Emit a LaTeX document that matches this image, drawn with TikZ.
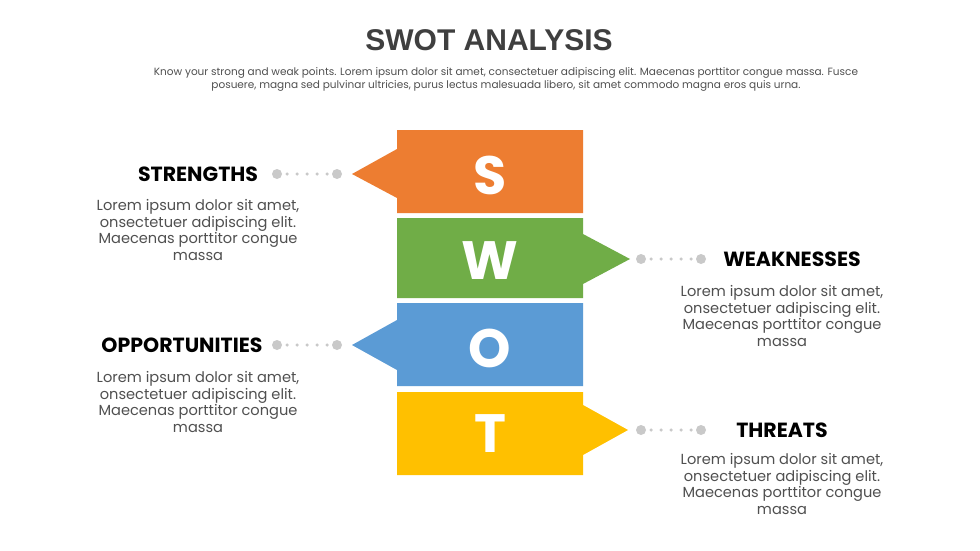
\documentclass[tikz,border=0pt]{standalone}
\usepackage{fontspec}
\setmainfont{Poppins}
\newfontfamily\titlefont{Liberation Sans}
\usetikzlibrary{positioning}

\definecolor{swotS}{HTML}{ED7D31}
\definecolor{swotW}{HTML}{70AD47}
\definecolor{swotO}{HTML}{5B9BD5}
\definecolor{swotT}{HTML}{FFC000}
\definecolor{titlegray}{HTML}{3F3F3F}
\definecolor{textgray}{HTML}{505050}
\definecolor{dotgray}{HTML}{C9C9C9}

\tikzset{
  letter/.style={text=white, font=\bfseries\fontsize{54}{54}\selectfont},
  heading/.style={text=black, font=\bfseries\fontsize{20.5}{23}\selectfont},
  body/.style={align=center, text=textgray, font=\fontsize{14.6}{16.5}\selectfont},
  bigdot/.style={circle, fill=dotgray, inner sep=0pt, minimum size=10pt},
  dotline/.style={dotgray, line width=3.5pt, line cap=round, dash pattern=on 0pt off 10pt},
}

\begin{document}
\begin{tikzpicture}[x=1pt,y=-1pt]
  \useasboundingbox (0,0) rectangle (980,551);
  \fill[white] (0,0) rectangle (980,551);

  % Title
  \node[text=titlegray, font=\titlefont\bfseries\fontsize{30}{32}\selectfont] (title) at (489,40) {SWOT ANALYSIS};
  \node[text=textgray, align=center, font=\fontsize{10.5}{13}\selectfont] (subtitle) at (506,79)
    {Know your strong and weak points. Lorem ipsum dolor sit amet, consectetuer adipiscing elit. Maecenas porttitor congue massa. Fusce\\
     posuere, magna sed pulvinar ultricies, purus lectus malesuada libero, sit amet commodo magna eros quis urna.};

  % Arrow blocks
  \fill[swotS] (397,130) -- (583,130) -- (583,213) -- (397,213) -- (397,198) -- (352,174) -- (397,149) -- cycle;
  \fill[swotW] (397,218) -- (583,218) -- (583,234) -- (630,259) -- (583,284) -- (583,298) -- (397,298) -- cycle;
  \fill[swotO] (397,303) -- (583,303) -- (583,386) -- (397,386) -- (397,370) -- (352,345) -- (397,320) -- cycle;
  \fill[swotT] (397,392) -- (583,392) -- (583,405) -- (628,430) -- (583,455) -- (583,475) -- (397,475) -- cycle;

  % Letters
  \node[letter] (ls) at (490,175) {S};
  \node[letter] (lw) at (490,261) {W};
  \node[letter] (lo) at (490,348) {O};
  \node[letter] (lt) at (490,434) {T};

  % Dots
  \node[bigdot] (sa) at (277,174) {};
  \node[bigdot] (sb) at (337,174) {};
  \node[bigdot] (wa) at (641,259) {};
  \node[bigdot] (wb) at (701,259) {};
  \node[bigdot] (oa) at (277,345) {};
  \node[bigdot] (ob) at (337,345) {};
  \node[bigdot] (ta) at (641,430) {};
  \node[bigdot] (tb) at (701,430) {};
  \draw[dotline] (sa.center) -- (sb.center);
  \draw[dotline] (wa.center) -- (wb.center);
  \draw[dotline] (oa.center) -- (ob.center);
  \draw[dotline] (ta.center) -- (tb.center);

  % Headings
  \node[heading] (hs) at (198,174) {STRENGTHS};
  \node[heading] (hw) at (792,259) {WEAKNESSES};
  \node[heading] (ho) at (182,345) {OPPORTUNITIES};
  \node[heading] (ht) at (782,430) {THREATS};

  % Body texts
  \node[body] (bs) at (198,230) {Lorem ipsum dolor sit amet,\\ onsectetuer adipiscing elit.\\ Maecenas porttitor congue\\ massa};
  \node[body] (bw) at (782,316) {Lorem ipsum dolor sit amet,\\ onsectetuer adipiscing elit.\\ Maecenas porttitor congue\\ massa};
  \node[body] (bo) at (198,402) {Lorem ipsum dolor sit amet,\\ onsectetuer adipiscing elit.\\ Maecenas porttitor congue\\ massa};
  \node[body] (bt) at (782,484) {Lorem ipsum dolor sit amet,\\ onsectetuer adipiscing elit.\\ Maecenas porttitor congue\\ massa};
\end{tikzpicture}
\end{document}
